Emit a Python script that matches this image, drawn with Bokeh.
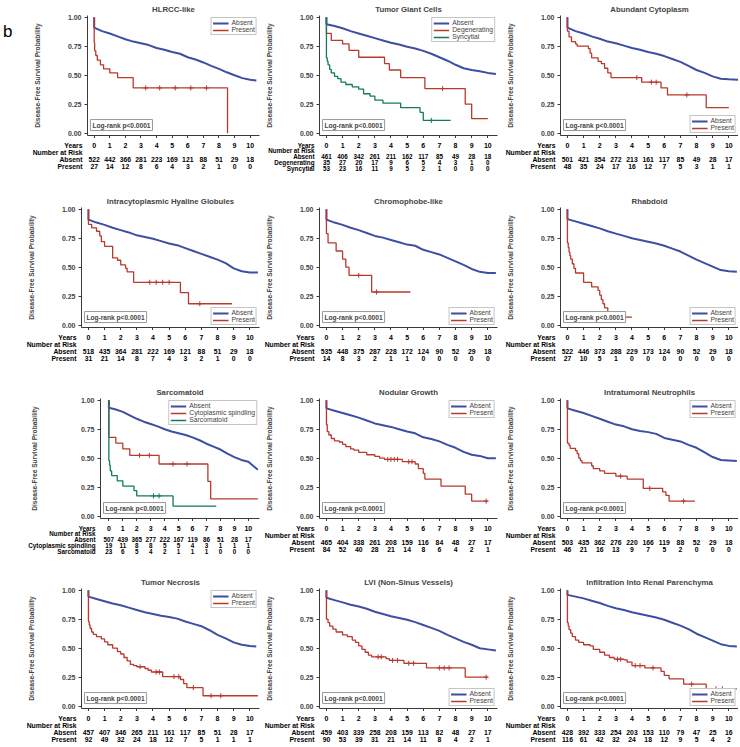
import numpy as np
from bokeh.plotting import figure
from bokeh.models import Range1d, FixedTicker, NumeralTickFormatter, Label, Legend, LegendItem, LinearAxis
from bokeh.layouts import row, column
from bokeh.core.properties import value
from bokeh.embed import file_html
from bokeh.resources import INLINE

FONT = "Liberation Sans"
BLUE = "#3D4FA3"
RED = "#B8392E"
GREEN = "#13795F"

YEARS = [0, 1, 2, 3, 4, 5, 6, 7, 8, 9, 10]
Y_TICKS = [0.0, 0.25, 0.5, 0.75, 1.0]
ABS_T = [0, 0.5, 1, 1.5, 2, 2.5, 3, 3.5, 4, 4.5, 5, 5.5, 6, 6.5, 7, 7.5, 8, 8.5, 9, 9.5, 10]

# ---------------- 1. HLRCC-like ----------------
hlrcc_abs_end = 10.4
hlrcc_abs_s = [.91, .88, .86, .835, .81, .79, .775, .76, .735, .72, .70, .685, .655, .635, .61, .58, .555, .525, .50, .475, .46, .455]
hlrcc_pre_t = [0, 0.03, 0.1, 0.2, 0.4, 0.6, 1.0, 1.5, 2.5, 8.55]
hlrcc_pre_s = [.78, .71, .67, .63, .59, .555, .52, .48, .39, 0.0]
hlrcc_pre_cens = [3.3, 4.2, 5.2, 6.2, 7.2]
hlrcc_risk_abs = [522, 442, 366, 281, 223, 169, 121, 88, 51, 29, 18]
hlrcc_risk_pre = [27, 14, 12, 8, 6, 4, 3, 2, 1, 0, 0]

# ---------------- 2. Tumor Giant Cells ----------------
giant_abs_end = 10.5
giant_abs_s = [.94, .925, .905, .88, .86, .84, .82, .80, .78, .765, .745, .73, .71, .685, .655, .625, .59, .56, .545, .535, .52, .51]
giant_deg_t = [0, 0.3, 1.0, 1.4, 2.0, 3.6, 3.9, 4.6, 6.1, 8.6, 9.0, 10.0]
giant_deg_s = [.86, .80, .77, .715, .655, .60, .545, .48, .385, .25, .125, .125]
giant_deg_cens = [7.2]
giant_syn_t = [0, 0.05, 0.1, 0.2, 0.3, 0.5, 0.7, 0.9, 1.2, 1.6, 2.0, 2.3, 2.7, 3.0, 3.5, 4.6, 5.8, 6.0, 7.7]
giant_syn_s = [.65, .62, .59, .55, .52, .49, .47, .44, .42, .40, .38, .34, .32, .285, .26, .22, .18, .11, .11]
giant_syn_cens = [6.5]
giant_risk_abs = [461, 406, 342, 261, 211, 162, 117, 85, 49, 28, 18]
giant_risk_deg = [35, 27, 20, 17, 9, 6, 5, 4, 3, 1, 0]
giant_risk_syn = [53, 23, 16, 11, 9, 5, 2, 1, 0, 0, 0]

# ---------------- 3. Abundant Cytoplasm ----------------
cyto_abs_end = 10.6
cyto_abs_s = [.91, .88, .86, .835, .815, .79, .775, .755, .735, .72, .70, .685, .665, .64, .615, .58, .545, .52, .49, .47, .465, .46]
cyto_pre_t = [0, 0.1, 0.25, 0.5, 0.6, 1.3, 1.4, 1.5, 1.9, 2.1, 2.3, 2.5, 2.7, 4.6, 5.8, 6.2, 8.6, 10.0]
cyto_pre_s = [.88, .83, .79, .77, .75, .73, .69, .65, .62, .60, .56, .52, .48, .44, .39, .33, .22, .22]
cyto_pre_cens = [4.3, 5.2, 5.5, 7.4]
cyto_risk_abs = [501, 421, 354, 272, 213, 161, 117, 85, 49, 28, 17]
cyto_risk_pre = [48, 35, 24, 17, 16, 12, 7, 5, 3, 1, 1]

# ---------------- 4. Intracytoplasmic Hyaline Globules ----------------
hyal_abs_end = 10.5
hyal_abs_s = [.91, .885, .865, .84, .82, .80, .775, .76, .745, .725, .705, .69, .665, .64, .615, .59, .565, .535, .49, .465, .455, .455]
hyal_pre_t = [0, 0.2, 0.5, 0.7, 0.8, 1.0, 1.5, 1.8, 2.0, 2.3, 2.4, 2.8, 5.7, 6.2, 8.9]
hyal_pre_s = [.87, .84, .81, .77, .72, .68, .58, .56, .52, .49, .46, .37, .28, .185, .185]
hyal_pre_cens = [3.8, 4.2, 4.6, 5.0, 6.9]
hyal_risk_abs = [518, 435, 364, 281, 222, 169, 121, 88, 51, 29, 18]
hyal_risk_pre = [31, 21, 14, 8, 7, 4, 3, 2, 1, 0, 0]

# ---------------- 5. Chromophobe-like ----------------
chrom_abs_end = 10.5
chrom_abs_s = [.91, .885, .865, .84, .82, .795, .77, .755, .735, .715, .695, .685, .65, .63, .61, .58, .55, .52, .485, .46, .45, .45]
chrom_pre_t = [0, 0.1, 0.6, 1.0, 1.2, 1.4, 2.8, 5.2]
chrom_pre_s = [.79, .71, .64, .57, .50, .43, .286, .286]
chrom_pre_cens = [2.0, 3.1]
chrom_risk_abs = [535, 448, 375, 287, 228, 172, 124, 90, 52, 29, 18]
chrom_risk_pre = [14, 8, 3, 2, 1, 1, 0, 0, 0, 0, 0]

# ---------------- 6. Rhabdoid ----------------
rhab_abs_end = 10.5
rhab_abs_s = [.915, .895, .875, .855, .835, .81, .79, .77, .75, .735, .72, .705, .685, .66, .635, .60, .565, .535, .505, .475, .465, .46]
rhab_pre_t = [0, 0.05, 0.1, 0.15, 0.2, 0.3, 0.4, 0.5, 1.0, 1.5, 1.9, 2.0, 2.1, 2.2, 2.3, 2.5, 4.0]
rhab_pre_s = [.71, .67, .63, .60, .57, .53, .49, .45, .37, .33, .30, .26, .22, .185, .15, .07, .07]
rhab_pre_cens = []
rhab_risk_abs = [522, 446, 373, 288, 229, 173, 124, 90, 52, 29, 18]
rhab_risk_pre = [27, 10, 5, 1, 0, 0, 0, 0, 0, 0, 0]

# ---------------- 7. Sarcomatoid ----------------
sarc_abs_end = 10.68
sarc_abs_s = [.935, .92, .90, .87, .84, .815, .795, .775, .75, .73, .715, .70, .68, .655, .625, .60, .575, .54, .51, .485, .47, .40]
sarc_cyt_t = [0, 0.5, 1.0, 1.5, 3.6, 7.1, 7.3, 10.68]
sarc_cyt_s = [.68, .63, .58, .525, .45, .30, .15, .15]
sarc_cyt_cens = [2.2, 2.9, 4.6, 5.6]
sarc_sar_t = [0, 0.05, 0.1, 0.2, 0.6, 1.0, 1.8, 2.0, 4.6, 7.7]
sarc_sar_s = [.48, .44, .39, .35, .305, .26, .22, .175, .087, .087]
sarc_sar_cens = [3.2, 3.6]
sarc_risk_abs = [507, 439, 365, 277, 222, 167, 119, 86, 51, 28, 17]
sarc_risk_cyt = [19, 11, 8, 8, 5, 5, 4, 3, 1, 1, 1]
sarc_risk_sar = [23, 6, 5, 4, 2, 1, 1, 1, 0, 0, 0]

# ---------------- 8. Nodular Growth ----------------
nod_abs_end = 10.5
nod_abs_s = [.93, .91, .89, .87, .85, .825, .80, .785, .77, .75, .73, .715, .68, .665, .645, .615, .59, .555, .53, .52, .50, .50]
nod_pre_t = [0, 0.05, 0.15, 0.3, 0.5, 0.8, 1.0, 1.2, 1.5, 1.7, 2.0, 2.5, 3.0, 3.3, 3.6, 4.7, 5.5, 5.7, 6.0, 6.1, 7.1, 8.6, 9.0, 10.0]
nod_pre_s = [.79, .73, .70, .67, .65, .64, .62, .60, .58, .57, .55, .53, .515, .50, .49, .47, .45, .41, .37, .32, .26, .19, .13, .13]
nod_pre_cens = [3.8, 4.0, 4.2, 4.4, 5.1, 5.3, 9.9]
nod_risk_abs = [465, 404, 338, 261, 208, 159, 116, 84, 48, 27, 17]
nod_risk_pre = [84, 52, 40, 28, 21, 14, 8, 6, 4, 2, 1]

# ---------------- 9. Intratumoral Neutrophils ----------------
neut_abs_end = 10.5
neut_abs_s = [.93, .91, .89, .865, .84, .815, .79, .775, .75, .735, .725, .71, .675, .66, .645, .615, .59, .55, .51, .485, .48, .475]
neut_pre_t = [0, 0.1, 0.17, 0.5, 0.6, 0.7, 0.8, 0.9, 1.5, 1.6, 2.0, 2.3, 3.0, 3.7, 4.7, 5.9, 6.1, 6.3, 7.9]
neut_pre_s = [.63, .61, .585, .565, .54, .50, .48, .46, .435, .41, .39, .37, .345, .32, .24, .21, .18, .13, .13]
neut_pre_cens = [3.3, 5.1, 7.2]
neut_risk_abs = [503, 435, 362, 276, 220, 166, 119, 88, 52, 29, 18]
neut_risk_pre = [46, 21, 16, 13, 9, 7, 5, 2, 0, 0, 0]

# ---------------- 10. Tumor Necrosis ----------------
necr_abs_end = 10.4
necr_abs_s = [.945, .925, .905, .885, .87, .85, .83, .81, .795, .78, .77, .755, .73, .71, .69, .655, .615, .585, .55, .53, .52, .515]
necr_pre_t = [0, 0.05, 0.1, 0.2, 0.3, 0.5, 0.8, 1.0, 1.2, 1.5, 1.8, 2.0, 2.2, 2.4, 2.6, 2.8, 3.0, 3.5, 3.7, 3.9, 4.6, 5.7, 5.9, 6.1, 7.1, 10.5]
necr_pre_s = [.73, .70, .67, .64, .62, .60, .58, .555, .53, .50, .47, .45, .42, .39, .36, .35, .34, .325, .31, .295, .255, .23, .195, .16, .09, .09]
necr_pre_cens = [3.2, 4.2, 4.4, 5.3, 5.6, 6.5, 7.6, 8.2]
necr_risk_abs = [457, 407, 346, 265, 211, 161, 117, 85, 51, 28, 17]
necr_risk_pre = [92, 49, 32, 24, 18, 12, 7, 5, 1, 1, 1]

# ---------------- 11. LVI (Non-Sinus Vessels) ----------------
lvi_abs_end = 10.5
lvi_abs_s = [.935, .915, .895, .875, .86, .84, .815, .795, .775, .76, .745, .725, .70, .675, .65, .615, .585, .555, .53, .50, .49, .48]
lvi_pre_t = [0, 0.1, 0.2, 0.4, 0.6, 1.0, 1.3, 1.6, 1.8, 2.0, 2.2, 2.4, 2.6, 2.8, 3.7, 3.9, 4.8, 6.2, 8.6, 10.0]
lvi_pre_s = [.75, .72, .69, .665, .64, .615, .60, .57, .55, .52, .49, .465, .44, .425, .41, .395, .37, .33, .25, .25]
lvi_pre_cens = [3.2, 3.4, 4.1, 4.4, 5.1, 5.4, 7.0, 7.3, 7.6, 9.9]
lvi_risk_abs = [459, 403, 339, 258, 208, 159, 113, 82, 48, 27, 17]
lvi_risk_pre = [90, 53, 39, 31, 21, 14, 11, 8, 4, 2, 1]

# ---------------- 12. Infiltration Into Renal Parenchyma ----------------
infl_abs_end = 10.5
infl_abs_s = [.96, .945, .93, .91, .89, .865, .845, .83, .81, .795, .78, .765, .745, .72, .695, .665, .625, .595, .565, .535, .52, .515]
infl_pre_t = [0, 0.05, 0.1, 0.2, 0.3, 0.5, 0.7, 1.0, 1.4, 1.6, 2.0, 2.3, 2.6, 2.9, 3.5, 3.7, 4.0, 4.8, 5.8, 6.0, 6.3, 7.2, 8.6, 10.5]
infl_pre_s = [.72, .69, .66, .63, .60, .57, .55, .53, .52, .49, .465, .44, .42, .405, .40, .38, .35, .33, .30, .265, .235, .19, .15, .15]
infl_pre_cens = [3.1, 3.3, 4.2, 4.5, 5.3, 7.7, 9.2, 9.6]
infl_risk_abs = [428, 392, 333, 254, 203, 153, 110, 79, 47, 25, 16]
infl_risk_pre = [116, 61, 42, 32, 24, 18, 12, 9, 5, 4, 2]


def absent(end, s, risk):
    return dict(name="Absent", t=ABS_T + [end], s=s, cens=[], risk=risk, color=BLUE, smooth=True)


def grp(name, t, s, cens, risk, color):
    return dict(name=name, t=t, s=s, cens=cens, risk=risk, color=color, smooth=False)


PANELS = [
    dict(title="HLRCC-like", legend="top_right", tag="b",
         groups=[absent(hlrcc_abs_end, hlrcc_abs_s, hlrcc_risk_abs),
                 grp("Present", hlrcc_pre_t, hlrcc_pre_s, hlrcc_pre_cens, hlrcc_risk_pre, RED)]),
    dict(title="Tumor Giant Cells", legend="top_right",
         groups=[absent(giant_abs_end, giant_abs_s, giant_risk_abs),
                 grp("Degenerating", giant_deg_t, giant_deg_s, giant_deg_cens, giant_risk_deg, RED),
                 grp("Syncytial", giant_syn_t, giant_syn_s, giant_syn_cens, giant_risk_syn, GREEN)]),
    dict(title="Abundant Cytoplasm", legend="bottom_right",
         groups=[absent(cyto_abs_end, cyto_abs_s, cyto_risk_abs),
                 grp("Present", cyto_pre_t, cyto_pre_s, cyto_pre_cens, cyto_risk_pre, RED)]),
    dict(title="Intracytoplasmic Hyaline Globules", legend="bottom_right",
         groups=[absent(hyal_abs_end, hyal_abs_s, hyal_risk_abs),
                 grp("Present", hyal_pre_t, hyal_pre_s, hyal_pre_cens, hyal_risk_pre, RED)]),
    dict(title="Chromophobe-like", legend="bottom_right",
         groups=[absent(chrom_abs_end, chrom_abs_s, chrom_risk_abs),
                 grp("Present", chrom_pre_t, chrom_pre_s, chrom_pre_cens, chrom_risk_pre, RED)]),
    dict(title="Rhabdoid", legend="bottom_right",
         groups=[absent(rhab_abs_end, rhab_abs_s, rhab_risk_abs),
                 grp("Present", rhab_pre_t, rhab_pre_s, rhab_pre_cens, rhab_risk_pre, RED)]),
    dict(title="Sarcomatoid", legend="top_right", frame_left=100, xstart=-0.6, xend=10.8, label_standoff=40,
         groups=[absent(sarc_abs_end, sarc_abs_s, sarc_risk_abs),
                 grp("Cytoplasmic spindling", sarc_cyt_t, sarc_cyt_s, sarc_cyt_cens, sarc_risk_cyt, RED),
                 grp("Sarcomatoid", sarc_sar_t, sarc_sar_s, sarc_sar_cens, sarc_risk_sar, GREEN)]),
    dict(title="Nodular Growth", legend="top_right",
         groups=[absent(nod_abs_end, nod_abs_s, nod_risk_abs),
                 grp("Present", nod_pre_t, nod_pre_s, nod_pre_cens, nod_risk_pre, RED)]),
    dict(title="Intratumoral Neutrophils", legend="top_right",
         groups=[absent(neut_abs_end, neut_abs_s, neut_risk_abs),
                 grp("Present", neut_pre_t, neut_pre_s, neut_pre_cens, neut_risk_pre, RED)]),
    dict(title="Tumor Necrosis", legend="top_right",
         groups=[absent(necr_abs_end, necr_abs_s, necr_risk_abs),
                 grp("Present", necr_pre_t, necr_pre_s, necr_pre_cens, necr_risk_pre, RED)]),
    dict(title="LVI (Non-Sinus Vessels)", legend="bottom_right",
         groups=[absent(lvi_abs_end, lvi_abs_s, lvi_risk_abs),
                 grp("Present", lvi_pre_t, lvi_pre_s, lvi_pre_cens, lvi_risk_pre, RED)]),
    dict(title="Infiltration Into Renal Parenchyma", legend="bottom_right",
         groups=[absent(infl_abs_end, infl_abs_s, infl_risk_abs),
                 grp("Present", infl_pre_t, infl_pre_s, infl_pre_cens, infl_risk_pre, RED)]),
]

# ---------------- layout constants (pixels) ----------------
ROW_H = [192, 191, 190, 170]
COL_W = [261, 238, 239]
FRAME_L = [81, 58, 61]
FRAME_W = 178
TOP, FRAME_H, BOT = 14, 121, 3
Y0, Y1 = -0.02, 1.015
AX = "#3a3a3a"


def step_value(t, s, q):
    i = int(np.searchsorted(np.asarray(t, dtype=float), q, side="right")) - 1
    return s[max(i, 0)]


def make_panel(spec, ci, ri):
    W = COL_W[ci]
    BL = spec.get("frame_left", FRAME_L[ci])
    BR = max(W - BL - FRAME_W, 0) if "frame_left" not in spec else 2
    FW = W - BL - BR
    xs0 = spec.get("xstart", -0.43)
    xs1 = spec.get("xend", 10.6)
    ppy = FW / (xs1 - xs0)
    unit = FRAME_H / (Y1 - Y0)
    Hp = TOP + FRAME_H + BOT

    p = figure(width=W, height=Hp, x_range=Range1d(xs0, xs1), y_range=Range1d(Y0, Y1),
               toolbar_location=None, output_backend="svg",
               min_border_left=BL, min_border_right=BR, min_border_top=TOP, min_border_bottom=BOT)
    p.title.text = spec["title"]
    p.title.align = "center"
    p.title.text_font = FONT
    p.title.text_font_size = "7.8px"
    p.title.text_font_style = "bold"
    p.title.standoff = 4
    p.grid.visible = False
    p.outline_line_color = None
    p.background_fill_color = "white"

    p.xaxis.ticker = FixedTicker(ticks=YEARS)
    p.xaxis.major_label_text_font_size = "1px"
    p.xaxis.major_label_text_color = None
    p.xaxis.major_label_standoff = 0
    p.yaxis.ticker = FixedTicker(ticks=Y_TICKS)
    p.yaxis.formatter = NumeralTickFormatter(format="0.00")
    p.yaxis.axis_label = "Disease-Free Survival Probability"
    p.yaxis.axis_label_text_font = FONT
    p.yaxis.axis_label_text_font_size = "6.6px"
    p.yaxis.axis_label_text_font_style = "bold"
    p.yaxis.axis_label_standoff = spec.get("label_standoff", 24)
    p.yaxis.major_label_text_font = FONT
    p.yaxis.major_label_text_font_size = "7px"
    p.yaxis.major_label_text_font_style = "bold"
    p.yaxis.major_label_standoff = 3
    for ax in (p.xaxis, p.yaxis):
        ax.major_tick_out = 3
        ax.major_tick_in = 0
        ax.minor_tick_out = 0
        ax.minor_tick_in = 0
        ax.axis_line_color = AX
        ax.major_tick_line_color = AX

    items = []
    for g in spec["groups"]:
        xs = [0.0] + list(g["t"])
        ys = [1.0] + list(g["s"])
        if g["smooth"]:
            r = p.line(xs, ys, line_color=g["color"], line_width=2.0)
        else:
            r = p.step(xs, ys, mode="after", line_color=g["color"], line_width=1.3)
        if g["cens"]:
            cy = [step_value(g["t"], g["s"], c) for c in g["cens"]]
            p.scatter(g["cens"], cy, marker="cross", size=5, line_color=g["color"], line_width=1)
        items.append(LegendItem(label=g["name"], renderers=[r]))

    legend = Legend(items=items, location=spec["legend"], label_text_font=FONT,
                    label_text_font_size="6.8px", label_height=6, glyph_height=6, glyph_width=16,
                    label_standoff=3, padding=1, spacing=0, margin=2,
                    border_line_color="#8c8c8c", border_line_width=1, background_fill_alpha=1.0)
    p.add_layout(legend)

    p.add_layout(Label(x=xs0 + 3 / ppy, y=Y0 + 5 / unit, text="Log-rank p<0.0001",
                       text_font=FONT, text_font_size="6.6px", text_font_style="bold",
                       text_align="left", text_baseline="bottom", padding=2,
                       border_line_color="#9a9a9a", border_line_width=1,
                       background_fill_color="white"))

    if spec.get("tag"):
        # panel letter drawn as a label-only outer axis on the left
        p.extra_y_ranges = {"tag": Range1d(start=-(FRAME_H - 16) / 16, end=1)}
        tag_ax = LinearAxis(y_range_name="tag", ticker=FixedTicker(ticks=[0]),
                            major_label_overrides={0: spec["tag"]},
                            major_label_text_font=FONT, major_label_text_font_size="17px",
                            major_label_text_color="black", major_label_standoff=18,
                            axis_line_color=None, major_tick_line_color=None,
                            minor_tick_line_color=None, major_tick_out=0, major_tick_in=0)
        p.add_layout(tag_ax, "left")

    # ----- number-at-risk table (shares the plot's x scale; row names on its own axis) -----
    Ht = ROW_H[ri] - Hp
    ng = len(spec["groups"])
    sp = 7.3 if ng == 2 else 5.8
    y0 = 6.5
    fs = "6.8px" if ng == 2 else "6.3px"
    row_names = ["Years", "Number at Risk"] + [g["name"] for g in spec["groups"]]
    t = figure(width=W, height=Ht, x_range=p.x_range,
               y_range=Range1d((Ht - y0) / sp, -y0 / sp),
               toolbar_location=None, output_backend="svg", x_axis_type=None,
               min_border_left=BL, min_border_right=BR, min_border_top=0, min_border_bottom=0)
    t.outline_line_color = None
    t.grid.visible = False
    t.yaxis.ticker = FixedTicker(ticks=list(range(len(row_names))))
    t.yaxis.major_label_overrides = {i: nm for i, nm in enumerate(row_names)}
    t.yaxis.major_label_text_font = FONT
    t.yaxis.major_label_text_font_style = "bold"
    t.yaxis.major_label_text_font_size = fs
    t.yaxis.major_label_text_color = "black"
    t.yaxis.major_label_standoff = 5
    t.yaxis.axis_line_color = None
    t.yaxis.major_tick_line_color = None
    t.yaxis.minor_tick_line_color = None
    t.yaxis.major_tick_out = 0
    t.yaxis.major_tick_in = 0

    common = dict(text_font=value(FONT), text_font_style="bold", text_baseline="middle",
                  text_color="black", text_align="center")
    t.text(x=YEARS, y=[0] * len(YEARS), text=[str(v) for v in YEARS], text_font_size="7px", **common)
    for k, g in enumerate(spec["groups"]):
        t.text(x=YEARS, y=[2 + k] * len(YEARS), text=[str(v) for v in g["risk"]],
               text_font_size=fs, **common)
    return column(p, t)


rows = []
for ri in range(4):
    rows.append(row(*[make_panel(PANELS[ri * 3 + ci], ci, ri) for ci in range(3)]))
layout = column(*rows)

open("out.html", "w").write(file_html(layout, INLINE))
